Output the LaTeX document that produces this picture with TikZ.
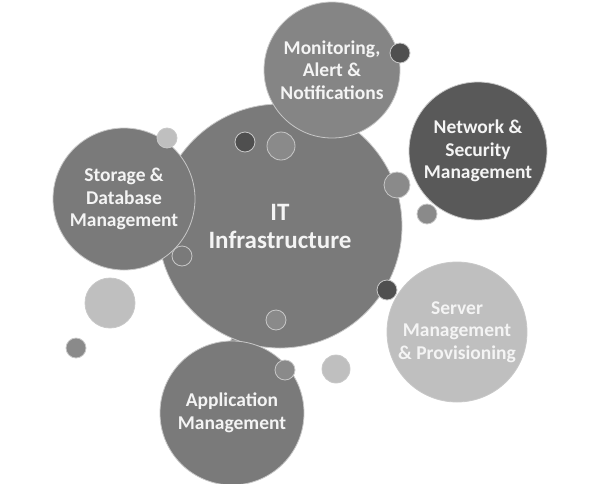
\documentclass[tikz,border=0pt]{standalone}
\usepackage{fontspec}
\setmainfont{Carlito}
\definecolor{gmid}{HTML}{7A7A7A}
\definecolor{gmon}{HTML}{858585}
\definecolor{gdark}{HTML}{595959}
\definecolor{glight}{HTML}{BFBFBF}
\definecolor{gline}{HTML}{C8C8C8}
\definecolor{gtext}{HTML}{F4F4F4}
\definecolor{gsmall}{HTML}{4F4F4F}
\definecolor{gsoft}{HTML}{8A8A8A}
\begin{document}
\begin{tikzpicture}[x=1pt,y=-1pt,
  bub/.style={circle,draw=gline,line width=0.8pt,inner sep=0pt,align=center,
     text=gtext,font=\bfseries\fontsize{19.5}{22.5}\selectfont},
  dot/.style={circle,draw=gline,line width=0.8pt,inner sep=0pt}]
\useasboundingbox (0,0) rectangle (600,483);
% hidden-behind dot
\node[dot,fill=gsoft,minimum size=20pt] (d10) at (240,344) {};
% central
\node[bub,fill=gmid,minimum size=244pt,font=\bfseries\fontsize{25}{28}\selectfont] (it) at (280,226) {IT\\Infrastructure};
% satellites
\node[bub,fill=gmon,minimum size=136pt] (mon) at (332,70) {Monitoring,\\Alert \&\\Notifications};
\node[bub,fill=gdark,minimum size=138pt] (net) at (478,151) {Network \&\\Security\\Management};
\node[bub,fill=gmid,minimum size=142pt] (sto) at (124,199) {Storage \&\\Database\\Management};
\node[bub,fill=glight,minimum size=140pt] (srv) at (457,332) {Server\\Management\\\& Provisioning};
\node[bub,fill=gmid,minimum size=144pt] (app) at (232,413) {Application\\Management};
% small dots
\node[dot,fill=gsmall,minimum size=20pt] (d1) at (400,53) {};
\node[dot,fill=gsmall,minimum size=20pt] (d2) at (245,142) {};
\node[dot,fill=gsoft,minimum size=28pt] (d3) at (281,146) {};
\node[dot,fill=gsoft,minimum size=26pt] (d4) at (397,185) {};
\node[dot,fill=gsoft,minimum size=20pt] (d5) at (427,214) {};
\node[dot,fill=glight,minimum size=20pt] (d6) at (167,138) {};
\node[dot,fill=gmid,minimum size=20pt] (d7) at (182,256) {};
\node[dot,fill=gsmall,minimum size=20pt] (d8) at (387,290) {};
\node[dot,fill=gsoft,minimum size=20pt] (d9) at (276,320) {};
\node[dot,fill=gsoft,minimum size=20pt] (d11) at (285,370) {};
\node[dot,fill=glight,minimum size=50pt] (d12) at (110,303) {};
\node[dot,fill=gsoft,minimum size=20pt] (d13) at (76,348) {};
\node[dot,fill=glight,minimum size=28pt] (d14) at (336,369) {};
\end{tikzpicture}
\end{document}
